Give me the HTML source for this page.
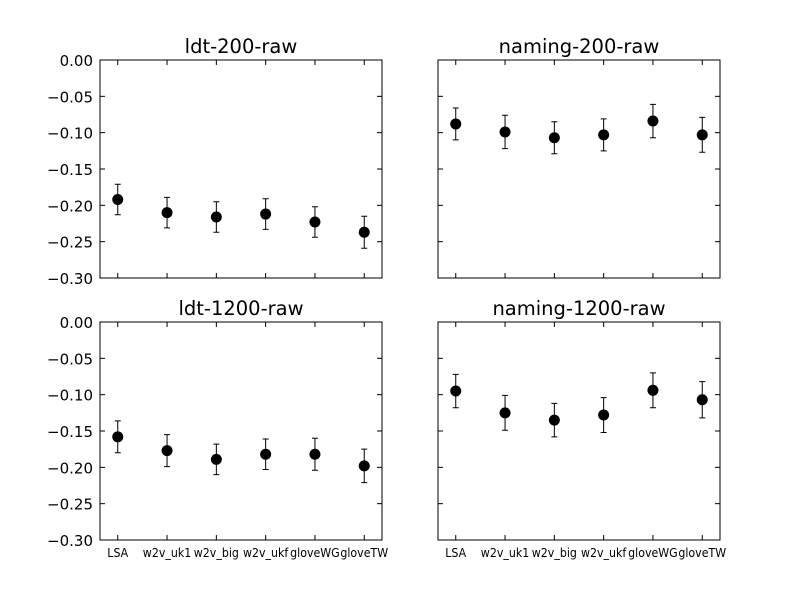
<!DOCTYPE html>
<html><head><meta charset="utf-8"><style>body{margin:0;background:#fff}svg{font-family:"DejaVu Sans","Liberation Sans",sans-serif}</style></head>
<body>
<svg id="c" width="800" height="600"></svg>
<script>
const categories=["LSA","w2v_uk1","w2v_big","w2v_ukf","gloveWG","gloveTW"];
const titles=["ldt-200-raw","naming-200-raw","ldt-1200-raw","naming-1200-raw"];
const ldt200=[-0.192,-0.210,-0.216,-0.212,-0.223,-0.237];
const ldt200Err=[0.021,0.021,0.021,0.021,0.021,0.022];
const naming200=[-0.088,-0.099,-0.107,-0.103,-0.084,-0.103];
const naming200Err=[0.022,0.023,0.022,0.022,0.023,0.024];
const ldt1200=[-0.158,-0.177,-0.189,-0.182,-0.182,-0.198];
const ldt1200Err=[0.022,0.022,0.021,0.021,0.022,0.023];
const naming1200=[-0.095,-0.125,-0.135,-0.128,-0.094,-0.107];
const naming1200Err=[0.023,0.024,0.023,0.024,0.024,0.025];
const yTicks=[0,-0.05,-0.1,-0.15,-0.2,-0.25,-0.3];
const yTickLabels=["0.00","\u22120.05","\u22120.10","\u22120.15","\u22120.20","\u22120.25","\u22120.30"];
const series=[[ldt200,ldt200Err],[naming200,naming200Err],[ldt1200,ldt1200Err],[naming1200,naming1200Err]];
const NS="http://www.w3.org/2000/svg",svg=document.getElementById('c');
function mk(t,a,p){const e=document.createElementNS(NS,t);for(const k in a)e.setAttribute(k,a[k]);(p||svg).appendChild(e);return e;}
const W=282,H=218,lefts=[100,438],tops=[60,322];
for(let i=0;i<4;i++){
 const L=lefts[i%2],T=tops[Math.floor(i/2)];
 const g=mk('g',{});
 
 
 const xs=j=>L+W*(j+0.36)/5.72, ys=v=>T+H*(v/-0.3);
 const t=mk('text',{x:L+W/2,y:T-7,'text-anchor':'middle','font-size':19.5},g);t.textContent=titles[i];
 
 yTicks.forEach((v,k)=>{const y=ys(v);
  mk('line',{x1:L,x2:L+5,y1:y,y2:y,stroke:'#000'},g);mk('line',{x1:L+W,x2:L+W-5,y1:y,y2:y,stroke:'#000'},g);
  if(i%2==0){const tl=mk('text',{x:L-7,y:y+6,'text-anchor':'end','font-size':15},g);tl.textContent=yTickLabels[k];
   }
 });
 categories.forEach((c,j)=>{const x=xs(j);
  mk('line',{x1:x,x2:x,y1:T+H,y2:T+H-5,stroke:'#000'},g);mk('line',{x1:x,x2:x,y1:T,y2:T+5,stroke:'#000'},g);
  if(i>=2){const tl=mk('text',{x:x,y:T+H+17,'text-anchor':'middle','font-size':12,transform:`translate(${x},0) scale(0.92,1) translate(${-x},0)`},g);tl.textContent=c;
   }
 });
 const [vals,errs]=series[i];
 vals.forEach((v,j)=>{const x=xs(j),y=ys(v),y1=ys(v+errs[j]),y2=ys(v-errs[j]);
  const eb=mk('path',{d:`M${x},${y1}V${y2}M${x-3},${y1}H${x+3}M${x-3},${y2}H${x+3}`,stroke:'#000','stroke-width':1,fill:'none'},g);
  
  const p=mk('circle',{cx:x,cy:y,r:5.5,fill:'#000'},g);
  
 });
 mk('rect',{x:L,y:T,width:W,height:H,fill:'none',stroke:'#000','stroke-width':1},g);
}
</script>
</body></html>
